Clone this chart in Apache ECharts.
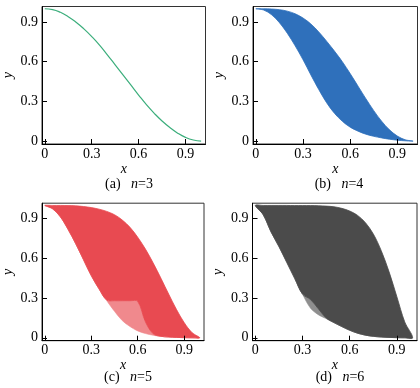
<!DOCTYPE html>
<html><head><meta charset="utf-8">
<script src="https://cdn.jsdelivr.net/npm/echarts@6/dist/echarts.min.js"></script>
<style>html,body{margin:0;padding:0;background:#fff}#c{width:420px;height:388px}</style>
</head><body><div id="c"></div>
<script>
// shared x positions
const X = [0,0.05,0.1,0.15,0.2,0.25,0.3,0.35,0.4,0.45,0.5,0.55,0.6,0.65,0.7,0.75,0.8,0.85,0.9,0.95,1];
const TICKS = [0,0.3,0.6,0.9];
// (a) n=3 single curve
const curveA = [1.0,0.994,0.973,0.94,0.898,0.848,0.79,0.725,0.652,0.576,0.5,0.424,0.348,0.275,0.21,0.152,0.102,0.06,0.028,0.008,0.0];
// (b) n=4 family envelopes
const bLower = [1,0.99,0.955,0.895,0.815,0.72,0.615,0.5,0.39,0.29,0.21,0.15,0.105,0.075,0.052,0.036,0.024,0.014,0.007,0.002,0];
const bUpper = [1,1,0.998,0.993,0.982,0.962,0.93,0.885,0.825,0.755,0.68,0.6,0.51,0.415,0.32,0.23,0.15,0.085,0.038,0.01,0];
// (c) n=5 family: outer lower envelope, lower edge of dense part, upper envelope
const cLower = [1,0.975,0.915,0.82,0.71,0.59,0.47,0.37,0.28,0.2,0.13,0.085,0.052,0.032,0.019,0.011,0.006,0.003,0.001,0,0];
const cDense = [1,0.975,0.915,0.82,0.71,0.59,0.47,0.37,0.285,0.28,0.28,0.28,0.275,0.12,0.03,0.011,0.006,0.003,0.001,0,0];
const cUpper = [1,1,1,0.999,0.997,0.992,0.984,0.972,0.955,0.93,0.89,0.835,0.76,0.67,0.565,0.45,0.33,0.215,0.115,0.04,0];
// (d) n=6 family
const dLower = [1,0.93,0.8,0.69,0.57,0.45,0.33,0.225,0.175,0.145,0.115,0.085,0.057,0.035,0.02,0.011,0.006,0.003,0.001,0,0];
const dDense = [1,0.93,0.8,0.69,0.57,0.45,0.33,0.29,0.22,0.15,0.115,0.085,0.057,0.035,0.02,0.011,0.006,0.003,0.001,0,0];
const dUpper = [1,1,1,1,1,0.999,0.999,0.999,0.998,0.995,0.99,0.978,0.958,0.925,0.87,0.785,0.66,0.5,0.31,0.12,0];

const LABELS = ['(a)','(b)','(c)','(d)'];
const NS = ['3','4','5','6'];

const pair = ys => X.map((x,i)=>[x, ys[i]]);

const FONT = 'Times';
const pos = [[41,6.5],[253,6.5],[39.5,203.2],[252.5,203.2]];
const W = 164.5, H = 137.5;

const fmt = v => v===0 ? '0' : v.toFixed(1);
const grids = [], xAxes = [], yAxes = [];
pos.forEach((p,i)=>{
  grids.push({left:p[0], top:p[1], width:W, height:H, show:true, z:10, borderColor:'#333', borderWidth:1, backgroundColor:'transparent'});
  xAxes.push({gridIndex:i, type:'value', min:-0.018, max:1.028, z:10,
    axisLine:{show:true, onZero:false, lineStyle:{color:'#000', width:1}},
    axisTick:{show:true, inside:true, length:5, customValues:TICKS, lineStyle:{color:'#000'}},
    axisLabel:{customValues:TICKS, margin:3, fontFamily:FONT, fontSize:14, color:'#000', formatter:fmt},
    splitLine:{show:false},
    name:'x', nameLocation:'middle', nameGap:12,
    nameTextStyle:{fontFamily:FONT, fontStyle:'italic', fontSize:14, color:'#000'}});
  yAxes.push({gridIndex:i, type:'value', min:-0.022, max:1.017, z:10,
    axisLine:{show:true, onZero:false, lineStyle:{color:'#000', width:1}},
    axisTick:{show:true, inside:true, length:5, customValues:TICKS, lineStyle:{color:'#000'}},
    axisLabel:{customValues:TICKS, margin:4, fontFamily:FONT, fontSize:14, color:'#000', formatter:fmt},
    splitLine:{show:false},
    name:'y', nameLocation:'middle', nameGap:27,
    nameTextStyle:{fontFamily:FONT, fontStyle:'italic', fontSize:14, color:'#000'}});
});

// filled band between two read-off envelopes, drawn through the axes' scales
function band(i, lo, hi, color, lw){
  return {type:'custom', coordinateSystem:'cartesian2d', xAxisIndex:i, yAxisIndex:i, data:[[0.5,0.5]], silent:true, animation:false,
    renderItem:(params, api)=>{
      const pts = [];
      X.forEach((x,k)=>pts.push(api.coord([x, hi[k]])));
      for (let k=X.length-2;k>=1;k--) pts.push(api.coord([X[k], lo[k]]));
      return {type:'polygon', shape:{points:pts, smooth:0.35}, style:{fill:color, stroke:color, lineWidth:lw}};
    }};
}
const GREEN='#3cae7c', BLUE='#2f70bb', RED='#e84a51', LRED='#f0898d', GRAY='#4b4b4b', LGRAY='#8e8e8e';

const series = [
  {type:'line', xAxisIndex:0, yAxisIndex:0, data:pair(curveA), showSymbol:false, symbol:'none', smooth:0.5, animation:false, lineStyle:{color:GREEN, width:1.2}},
  band(1, bLower, bUpper, BLUE, 0.8),
  band(2, cLower, cDense, LRED, 0.6),
  band(2, cDense, cUpper, RED, 0.8),
  band(3, dLower, dDense, LGRAY, 0.6),
  band(3, dDense, dUpper, GRAY, 0.8)
];

const capPos = [[129,184],[339,184],[128,377],[340,377]];
const graphic = capPos.map((c,i)=>({type:'text', x:c[0], y:c[1],
  style:{text: LABELS[i] + '   {i|n}=' + NS[i], align:'center', verticalAlign:'middle',
    font:'14px "Liberation Serif"', fill:'#000',
    rich:{i:{fontStyle:'italic', fontFamily:FONT, fontSize:14, fill:'#000'}}}}));

const chart = echarts.init(document.getElementById('c'), null, {renderer:'canvas'});
chart.setOption({animation:false, textStyle:{fontFamily:FONT}, grid:grids, xAxis:xAxes, yAxis:yAxes, series, graphic});
</script></body></html>
